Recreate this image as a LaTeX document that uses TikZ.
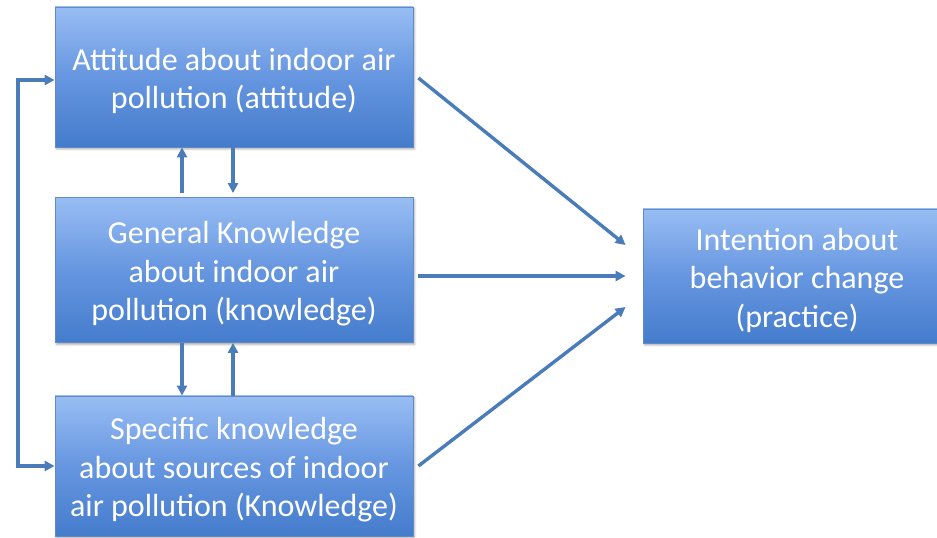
\documentclass[tikz,border=0pt]{standalone}
\usepackage{fontspec}
\setmainfont{Carlito}
\usetikzlibrary{arrows.meta,shadows.blur,calc}

\definecolor{boxtop}{RGB}{152,189,243}
\definecolor{boxmid}{RGB}{102,150,224}
\definecolor{boxbot}{RGB}{68,124,204}
\definecolor{boxline}{RGB}{96,138,200}
\definecolor{linkcol}{RGB}{74,124,186}

% box text, lowered a little inside its box
\newcommand{\boxtext}[2]{\raisebox{-4pt}[\height][\depth]{\parbox{#1}{\centering #2}}}

\tikzset{
  concept/.style={
    rectangle, draw=boxline, line width=0.8pt,
    top color=boxtop, bottom color=boxbot, middle color=boxmid,
    text=white, align=center,
    font=\fontsize{32pt}{38.5pt}\selectfont,
    inner sep=0pt,
    blur shadow={shadow xshift=1.5pt, shadow yshift=-2pt,
                 shadow blur radius=2pt, shadow opacity=35}
  },
  link/.style={
    draw=linkcol, line width=3.4pt,
    -{Triangle[length=10pt,width=10pt]}
  },
  duallink/.style={
    draw=linkcol, line width=3.4pt,
    {Triangle[length=10pt,width=10pt]}-{Triangle[length=10pt,width=10pt]}
  }
}

\begin{document}
\begin{tikzpicture}[x=1pt,y=1pt]
  \useasboundingbox (0,0) rectangle (937,538);

  % concept boxes
  \node[concept, minimum width=358pt, minimum height=140pt] (att) at (234,461)
    {\boxtext{358pt}{Attitude about indoor air\\pollution (attitude)}};
  \node[concept, minimum width=358pt, minimum height=145pt] (gen) at (234,268)
    {\boxtext{358pt}{General Knowledge\\about indoor air\\pollution (knowledge)}};
  \node[concept, minimum width=358pt, minimum height=140pt] (spec) at (234,72)
    {\boxtext{358pt}{Specific knowledge\\about sources of indoor\\air pollution (Knowledge)}};
  \node[concept, minimum width=308pt, minimum height=134pt] (int) at (797,262)
    {\boxtext{308pt}{Intention about\\behavior change\\(practice)}};

  % links towards the intention box
  \draw[link] ([xshift=5pt,yshift=-1pt]att.east) -- ([xshift=-17pt,yshift=31pt]int.west);
  \draw[link] ([xshift=5pt]gen.east |- int.west) -- ([xshift=-17pt]int.west);
  \draw[link] ([xshift=5pt]spec.east) -- ([xshift=-17pt,yshift=-31pt]int.west);

  % links between attitude and general knowledge
  \draw[link] ([xshift=-52pt,yshift=4pt]gen.north) -- ([xshift=-52pt]att.south);
  \draw[link] ([xshift=-1pt]att.south) -- ([xshift=-1pt,yshift=4pt]gen.north);

  % links between general and specific knowledge
  \draw[link] ([xshift=-52pt]gen.south) -- ([xshift=-52pt]spec.north);
  \draw[link] ([xshift=-1pt]spec.north) -- ([xshift=-1pt]gen.south);

  % loop between attitude and specific knowledge
  \coordinate (loopcorner) at (18,72);
  \draw[duallink] ([yshift=-3pt]att.west) -| (loopcorner) -- (spec.west);
\end{tikzpicture}
\end{document}
